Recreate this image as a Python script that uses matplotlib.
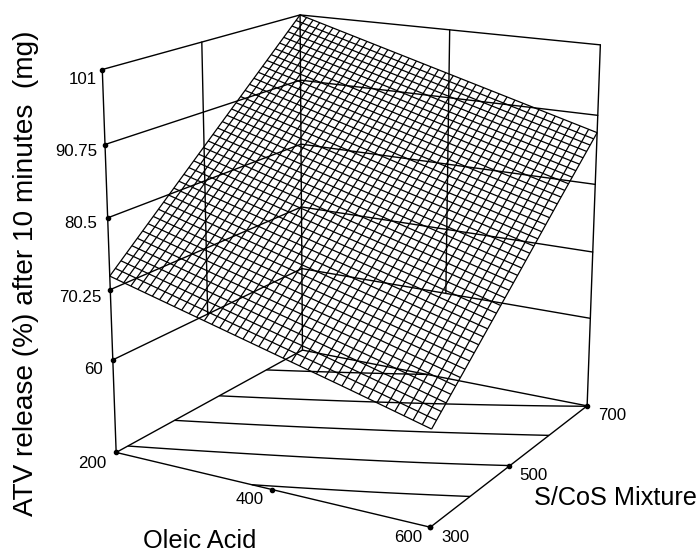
"""Response surface: ATV release after 10 minutes vs oleic acid and S/CoS mixture."""
import matplotlib
matplotlib.use("Agg")
import matplotlib.pyplot as plt
import numpy as np

plt.rcParams["font.family"] = ["Liberation Sans", "DejaVu Sans"]

OLEIC = [200, 300, 400, 500, 600]
SCOS = [300, 400, 500, 600, 700]
# release (%), rows = S/CoS, columns = oleic acid
RELEASE = [
    [72.2, 69.1, 66.0, 62.9, 59.7],
    [79.4, 76.2, 73.1, 70.0, 66.8],
    [86.6, 83.4, 80.2, 77.1, 73.9],
    [93.8, 90.6, 87.4, 84.2, 81.1],
    [101.0, 97.8, 94.6, 91.4, 88.2],
]
Z_TICKS = [60, 70.25, 80.5, 90.75, 101]
Z_LABELS = ["60", "70.25", "80.5", "90.75", "101"]
CONTOURS = [66.8, 74.0, 81.2, 88.1, 95.4]
OLEIC_TICKS = [200, 400, 600]
SCOS_TICKS = [300, 500, 700]
Z_FLOOR = 46.15
MESH = 40

W, H = 699, 555
BLACK = "#000000"


def warp(v, lo, k):
    t = (np.asarray(v, float) - lo) / 400
    return lo + 400 * t / (t + k * (1 - t))


def even_x(v):
    # the original spaces ticks evenly on screen, not in true perspective
    return warp(v, 200, 0.927)


def even_y(v):
    return warp(v, 300, 1.146)


def line3d(ax, xs, ys, zs, lw=1.0, **kw):
    ax.plot(even_x(xs), even_y(ys), zs, color=BLACK, lw=lw, solid_capstyle="round", **kw)


def surface(xs, ys):
    by_x = np.array([np.interp(xs, OLEIC, row) for row in RELEASE])
    return np.array([np.interp(ys, SCOS, col) for col in by_x.T]).T


fig = plt.figure(figsize=(W / 100, H / 100), dpi=100)
ax = fig.add_axes([43.67 / W, -8.4 / H, 614.6 / W, 614.6 / H], projection="3d",
                  computed_zorder=False)
ax.set_axis_off()
ax.patch.set_alpha(0)

# box walls
for z in Z_TICKS:
    line3d(ax, [200, 200, 600], [300, 700, 700], [z, z, z], zorder=1)
line3d(ax, [200, 600, 600, 200, 200], [300, 300, 700, 700, 300], [Z_FLOOR] * 5, zorder=1)
for x, y in [(200, 300), (200, 700), (600, 700)]:
    line3d(ax, [x, x], [y, y], [Z_FLOOR, 101], zorder=1)
line3d(ax, [200, 200], [500, 500], [60, 101], zorder=1)
line3d(ax, [400, 400], [700, 700], [60, 101], zorder=1)

# floor contours from the read values
xf = np.linspace(200, 600, MESH + 1)
yf = np.linspace(300, 700, MESH + 1)
xx, yy = np.meshgrid(even_x(xf), even_y(yf))
ax.contour(xx, yy, surface(xf, yf), levels=CONTOURS, zdir="z", offset=Z_FLOOR, colors=BLACK,
           linewidths=1.0, zorder=2)

# mesh: cells shrink towards the back corner like the original
xm = warp(xf, 200, 1.07)
ym = warp(yf, 300, 0.95)
mx, my = np.meshgrid(xm, ym)
ax.plot_wireframe(mx, my, surface(xm, ym), rstride=1, cstride=1, color=BLACK,
                  linewidth=0.9, zorder=3)

# tick dots
ms = 3.0
ax.plot(even_x([200] * 5), even_y([300] * 5), Z_TICKS, "o", color=BLACK, ms=ms, zorder=4)
ax.plot(even_x(OLEIC_TICKS), even_y([300] * 3), [Z_FLOOR] * 3, "o", color=BLACK, ms=ms, zorder=4)
ax.plot(even_x([600] * 3), even_y(SCOS_TICKS), [Z_FLOOR] * 3, "o", color=BLACK, ms=ms, zorder=4)

ax.view_init(16.3897, -60.0908, -0.0843)
ax.set_proj_type("persp", focal_length=0.588)
ax.set_box_aspect((1.0139, 1.0161, 1.109))
ax.set_xlim(200, 600)
ax.set_ylim(300, 700)
ax.set_zlim(Z_FLOOR, 101)


def label(px, py, s, size=12.2, **kw):
    fig.text(px / W, 1 - py / H, s, fontsize=size, color=BLACK, va="center", **kw)


for s, (px, py) in zip(Z_LABELS, [(103, 370), (102, 297), (97, 224), (97, 152), (97, 79)]):
    label(px, py, s, ha="right")
label(106, 463, "200", ha="right")
label(250, 500, "400", ha="center")
label(408, 538, "600", ha="center")
label(455, 538, "300", ha="center")
label(533, 476, "500", ha="center")
label(612, 415, "700", ha="center")
label(200, 541, "Oleic Acid", size=18.3, ha="center")
label(615, 498, "S/CoS Mixture", size=18.2, ha="center")
label(26, 273, "ATV release (%) after 10 minutes  (mg)", size=20.2, ha="center", rotation=90)

fig.savefig("out.png", dpi=100)
